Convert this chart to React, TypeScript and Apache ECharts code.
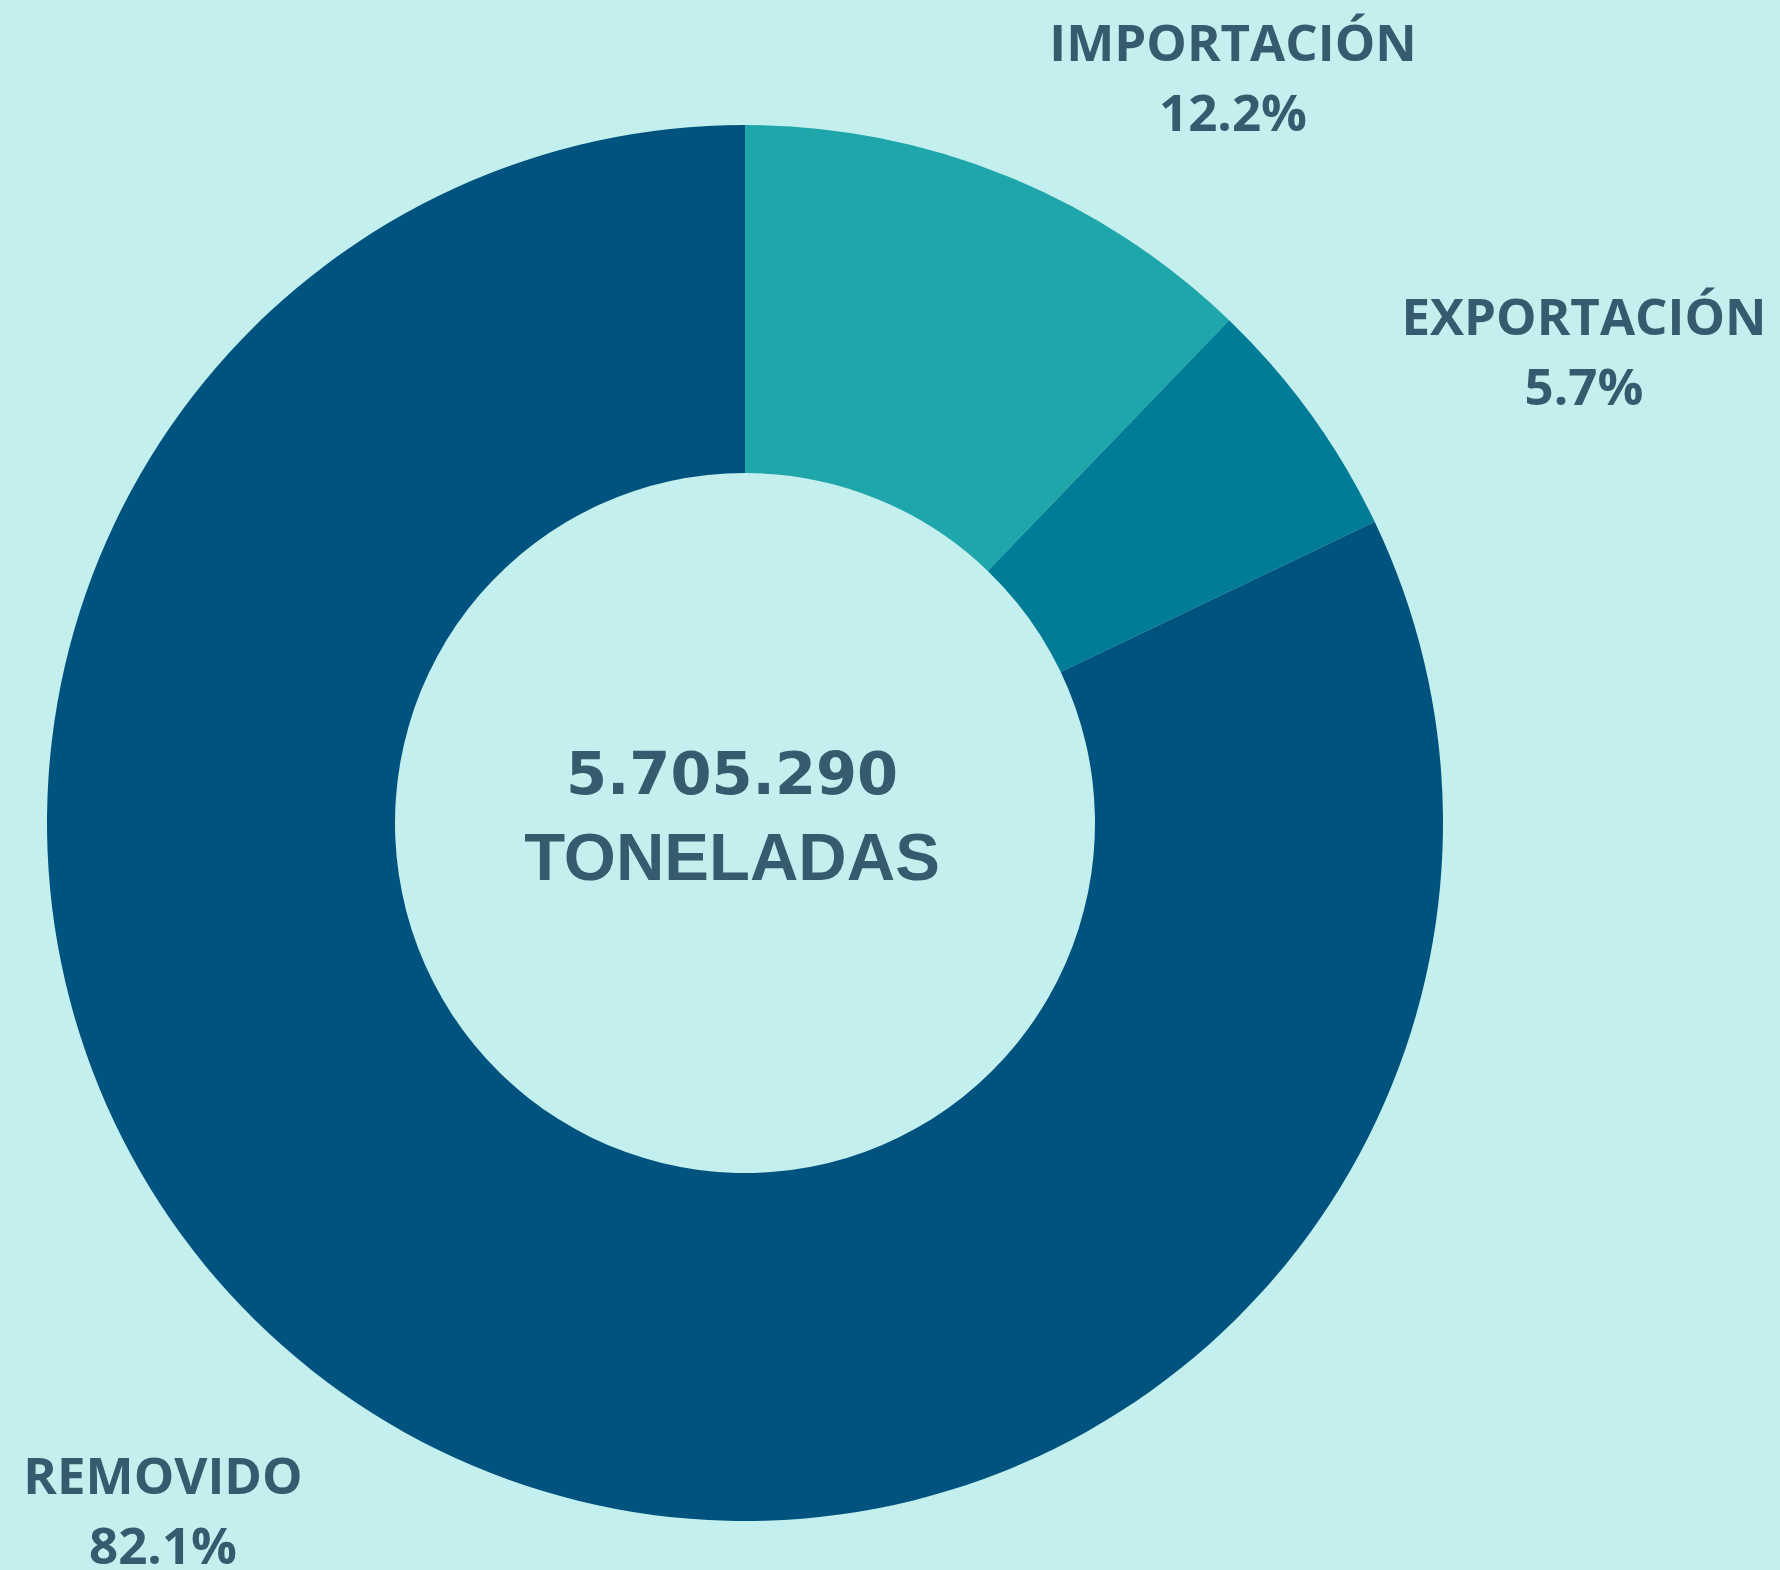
import React, { useEffect, useRef } from "react";
import * as echarts from "echarts";

const categories = ["IMPORTACIÓN", "EXPORTACIÓN", "REMOVIDO"];
const shares = [12.2, 5.7, 82.1];
const sliceColors = ["#1fa6ab", "#007c97", "#00537e"];
const totalLabel = "5.705.290";
const unitLabel = "TONELADAS";

// label anchor positions (px) for each slice label
const labelSpots: [number, number][] = [
  [1233, 76],
  [1584, 350],
  [163, 1509],
];

export default function App() {
  const ref = useRef<HTMLDivElement>(null);
  useEffect(() => {
    document.body.style.margin = "0";
    const chart = echarts.init(ref.current!, null, { renderer: "svg" });
    const textColor = "#365b6e";
    chart.setOption({
      animation: false,
      backgroundColor: "#c3efee",
      series: [
        {
          type: "pie",
          center: [745, 823],
          radius: [350, 698],
          startAngle: 90,
          clockwise: true,
          avoidLabelOverlap: false,
          silent: true,
          color: sliceColors,
          data: categories.map((c, i) => ({ name: c, value: shares[i] })),
          label: {
            show: true,
            position: "outside",
            formatter: (p: any) => `${p.name}\n${shares[p.dataIndex].toFixed(1)}%`,
            fontFamily: "Open Sans",
            fontWeight: "bold",
            fontSize: 51,
            lineHeight: 70,
            color: textColor,
          },
          labelLine: { show: false },
          labelLayout: (params: any) => {
            const s = labelSpots[params.dataIndex];
            return { x: s[0], y: s[1], align: "center", verticalAlign: "middle" };
          },
          emphasis: { disabled: true },
        },
      ],
      graphic: [
        {
          type: "text",
          x: 732,
          y: 815,
          style: {
            text: `{a|${totalLabel}}\n{b|${unitLabel}}`,
            fill: textColor,
            textAlign: "center",
            textVerticalAlign: "middle",
            rich: {
              a: {
                fontFamily: "DejaVu Sans",
                fontWeight: "bold",
                fontSize: 59,
                lineHeight: 83,
                fill: textColor,
                align: "center",
              },
              b: {
                fontFamily: "Liberation Sans",
                fontWeight: "bold",
                fontSize: 67,
                lineHeight: 83,
                fill: textColor,
                align: "center",
              },
            },
          },
        },
      ],
    });
    return () => chart.dispose();
  }, []);
  return <div ref={ref} style={{ position: "absolute", left: 0, top: 0, width: 1780, height: 1570 }} />;
}
